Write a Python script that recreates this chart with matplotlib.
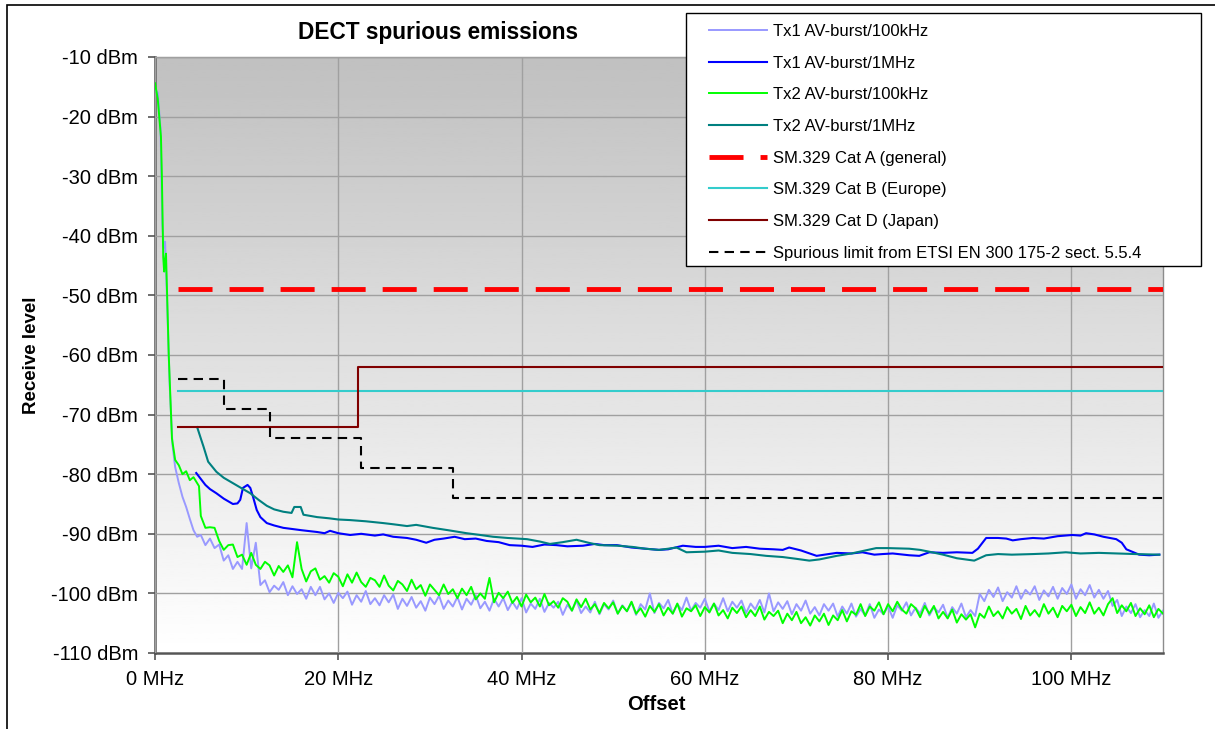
import numpy as np
import matplotlib
matplotlib.use("Agg")
import matplotlib.pyplot as plt
from matplotlib.patches import Rectangle

plt.rcParams['font.family'] = ['Liberation Sans', 'DejaVu Sans']

# ---- data (MHz / dBm) ----
# start of the 100 kHz sweeps (steep roll-off)
f_tx2_100k_start = [0, 0.3, 0.65, 0.75, 0.9, 1.0, 1.1, 1.2, 1.5, 1.85, 2.2, 2.6, 3.0, 3.4, 3.8, 4.2, 4.6, 4.8]
v_tx2_100k_start = [-14.4, -17, -23.4, -30, -43.6, -46, -44, -43, -60, -74, -77.6, -78.5, -80, -79.5, -81, -80.5, -81.5, -82]
f_tx1_100k_start = [0, 0.3, 0.6, 0.8, 0.95, 1.1, 1.3, 1.6, 1.9, 2.2, 2.6, 3.0, 3.4, 3.8, 4.2, 4.6]
v_tx1_100k_start = [-15.5, -16, -22, -38, -42, -41, -50, -65, -75, -78.8, -81.5, -83.8, -85.5, -87.5, -89.4, -90.5]

# rest of the 100 kHz sweeps, every 0.5 MHz from 5 to 110 MHz
f_sweep = np.arange(5.0, 110.01, 0.5)
v_tx2_100k = [
    -87.0, -89.0, -88.9, -89.0, -91.2, -92.7, -91.9, -91.8, -93.9, -93.5,     # 5.0 - 9.5
    -95.2, -93.2, -95.2, -95.9, -94.7, -95.3, -97.0, -95.4, -96.4, -95.3,     # 10.0 - 14.5
    -97.3, -91.4, -95.9, -98.0, -96.3, -95.8, -97.7, -97.1, -98.2, -96.6,     # 15.0 - 19.5
    -97.2, -98.8, -96.8, -98.2, -96.5, -98.1, -98.9, -97.4, -97.8, -98.9,     # 20.0 - 24.5
    -97.0, -98.7, -99.5, -97.9, -98.5, -99.6, -97.7, -99.3, -98.6, -100.4,    # 25.0 - 29.5
    -98.5, -99.4, -100.3, -98.5, -100.1, -99.3, -100.8, -99.2, -100.3, -98.9,  # 30.0 - 34.5
    -101.0, -100.0, -100.9, -97.4, -101.5, -99.9, -100.8, -99.7, -101.6, -100.6,  # 35.0 - 39.5
    -102.2, -100.2, -101.5, -100.7, -102.2, -100.1, -102.0, -101.3, -102.4, -100.8,  # 40.0 - 44.5
    -101.4, -102.9, -101.0, -102.3, -100.9, -102.7, -101.8, -103.3, -101.6, -102.5,  # 45.0 - 49.5
    -101.5, -103.4, -102.1, -103.0, -101.4, -103.4, -102.5, -103.9, -102.1, -103.1,  # 50.0 - 54.5
    -101.8, -103.7, -102.4, -103.4, -101.7, -103.9, -102.5, -103.0, -102.0, -103.8,  # 55.0 - 59.5
    -102.3, -103.2, -101.7, -103.7, -102.8, -104.2, -102.4, -103.3, -102.2, -104.0,  # 60.0 - 64.5
    -102.8, -103.8, -102.2, -104.4, -103.1, -103.8, -102.9, -105.0, -103.4, -104.5,  # 65.0 - 69.5
    -103.1, -105.0, -104.0, -105.4, -103.7, -104.7, -103.4, -105.3, -103.7, -104.5,  # 70.0 - 74.5
    -102.8, -104.7, -103.0, -103.6, -101.8, -103.8, -102.2, -102.9, -101.5, -103.5,  # 75.0 - 79.5
    -101.8, -103.0, -101.4, -102.7, -103.4, -101.8, -102.5, -104.0, -102.1, -103.4,  # 80.0 - 84.5
    -102.1, -104.2, -103.1, -104.2, -102.7, -104.9, -103.5, -104.4, -103.5, -105.7,  # 85.0 - 89.5
    -103.4, -104.1, -102.2, -103.8, -103.0, -104.2, -102.3, -103.4, -102.6, -104.3,  # 90.0 - 94.5
    -102.1, -103.7, -102.8, -103.9, -101.8, -103.4, -102.4, -104.0, -102.1, -103.0,  # 95.0 - 99.5
    -101.9, -103.8, -102.3, -103.3, -101.5, -103.4, -102.4, -103.7, -101.8, -100.8,  # 100.0 - 104.5
    -103.3, -102.0, -103.0, -101.6, -103.8, -102.5, -103.5, -102.0, -104.0, -102.6,  # 105.0 - 109.5
    -103.4,                                                                          # 110.0
]
v_tx1_100k = [
    -90.2, -91.9, -90.8, -92.4, -91.8, -94.5, -93.6, -95.9, -94.7, -95.9,     # 5.0 - 9.5
    -88.2, -95.8, -91.5, -98.6, -97.8, -99.8, -98.7, -99.4, -98.1, -100.3,    # 10.0 - 14.5
    -98.8, -100.1, -99.3, -100.9, -98.9, -100.3, -98.9, -101.0, -100.0, -101.6,  # 15.0 - 19.5
    -99.9, -100.8, -99.7, -101.9, -100.3, -101.4, -99.6, -101.8, -100.8, -102.0,  # 20.0 - 24.5
    -100.3, -101.5, -100.2, -102.6, -100.9, -102.1, -100.6, -102.4, -101.3, -102.9,  # 25.0 - 29.5
    -100.7, -101.8, -100.4, -102.6, -101.2, -102.2, -100.6, -102.7, -100.9, -101.9,  # 30.0 - 34.5
    -100.3, -102.5, -101.4, -102.9, -100.9, -102.2, -100.8, -102.8, -101.4, -102.6,  # 35.0 - 39.5
    -100.8, -103.2, -101.7, -102.6, -100.9, -103.1, -101.6, -102.4, -101.4, -103.6,  # 40.0 - 44.5
    -101.9, -102.9, -101.2, -103.3, -102.2, -103.2, -101.4, -103.5, -101.8, -102.7,  # 45.0 - 49.5
    -101.2, -103.4, -102.0, -103.0, -101.5, -103.6, -101.8, -102.7, -100.0, -103.3,  # 50.0 - 54.5
    -101.6, -102.5, -101.1, -103.4, -101.8, -102.8, -100.7, -102.9, -101.6, -102.4,  # 55.0 - 59.5
    -100.9, -103.0, -101.7, -102.8, -100.8, -103.0, -101.4, -102.4, -101.2, -103.3,  # 60.0 - 64.5
    -101.7, -102.7, -101.1, -103.2, -100.0, -103.0, -101.5, -102.6, -101.3, -103.5,  # 65.0 - 69.5
    -101.8, -102.9, -101.2, -103.4, -102.3, -103.7, -101.8, -102.9, -101.7, -103.9,  # 70.0 - 74.5
    -102.2, -103.4, -101.7, -103.9, -102.6, -103.7, -101.8, -104.1, -102.7, -103.5,  # 75.0 - 79.5
    -102.2, -104.1, -102.0, -102.9, -101.5, -103.7, -102.4, -103.4, -101.6, -103.7,  # 80.0 - 84.5
    -102.3, -103.2, -101.9, -104.1, -102.3, -103.4, -101.7, -104.0, -102.8, -103.8,  # 85.0 - 89.5
    -100.1, -101.3, -99.4, -100.6, -99.0, -101.3, -99.8, -100.7, -98.8, -100.9,     # 90.0 - 94.5
    -99.4, -100.2, -98.8, -101.1, -99.5, -100.5, -98.9, -100.9, -99.1, -100.1,      # 95.0 - 99.5
    -98.5, -100.9, -99.3, -100.3, -98.6, -100.7, -99.4, -100.9, -99.6, -102.1,      # 100.0 - 104.5
    -101.1, -103.8, -102.2, -103.3, -101.8, -104.0, -102.8, -103.8, -101.7, -104.1,  # 105.0 - 109.5
    -102.9,                                                                          # 110.0
]

# 1 MHz sweeps
f_tx1_1m = [4.5, 5.0, 5.5, 6.0, 6.7, 7.5, 8.5, 9.0, 9.3, 9.6, 10.1, 10.4, 10.7, 11.1, 11.5, 12.2, 13.0, 14.0,
            15.0, 16.0, 17.7, 18.5, 19.1, 20.0, 21.3, 22.5, 24.0, 24.9, 26.0, 27.5, 28.5, 29.6, 30.5, 31.5,
            32.7, 33.8, 35.0, 36.2, 37.5, 38.7, 40.0, 41.2, 42.5, 43.8, 45.0, 46.7, 48.0, 49.0, 50.4, 52.0,
            53.5, 55.0, 56.0, 57.6, 59.0, 60.0, 61.5, 63.0, 64.5, 66.0, 67.5, 68.5, 69.2, 70.5, 72.2, 73.5,
            74.4, 76.0, 77.2, 78.5, 79.4, 80.5, 82.3, 83.4, 84.5, 86.0, 87.5, 89.2, 89.8, 90.7, 92.0, 92.9,
            93.6, 94.5, 95.8, 97.0, 98.5, 100.1, 101.0, 101.6, 102.5, 103.5, 104.9, 105.5, 106.0, 107.4,
            108.5, 109.6]
v_tx1_1m = [-79.8, -80.8, -81.8, -82.5, -83.2, -84.1, -85.0, -84.9, -84.3, -82.3, -81.8, -82.3, -83.8, -86.0,
            -87.2, -88.2, -88.6, -89.0, -89.2, -89.4, -89.7, -89.9, -89.5, -89.9, -90.2, -90.0, -90.3, -90.1,
            -90.5, -90.7, -91.0, -91.5, -91.0, -90.8, -90.5, -90.9, -90.8, -91.2, -91.4, -91.9, -92.0, -92.2,
            -91.8, -91.9, -92.1, -92.0, -91.7, -91.9, -91.9, -92.3, -92.5, -92.7, -92.6, -92.0, -92.2, -92.2,
            -92.0, -92.4, -92.2, -92.5, -92.6, -92.7, -92.3, -92.8, -93.7, -93.4, -93.2, -93.3, -93.1, -93.5,
            -93.4, -93.3, -93.6, -93.7, -93.1, -93.2, -93.1, -93.2, -92.5, -90.7, -90.7, -90.8, -91.1, -90.9,
            -90.7, -90.8, -90.4, -90.2, -90.3, -89.9, -90.1, -90.5, -90.9, -91.5, -92.6, -93.5, -93.6, -93.5]

f_tx2_1m = [4.6, 5.0, 5.3, 5.8, 6.7, 7.5, 8.5, 9.5, 10.4, 11.3, 12.2, 13.0, 14.0, 14.9, 15.2, 15.9, 16.2, 17.7,
            19.0, 20.0, 21.3, 23.0, 24.9, 26.0, 27.5, 28.5, 30.3, 32.0, 34.0, 35.5, 36.9, 38.5, 40.6, 42.0,
            43.1, 44.5, 46.0, 47.3, 48.5, 50.5, 52.1, 53.5, 55.0, 56.0, 56.9, 58.0, 60.0, 61.5, 63.0, 65.0,
            66.7, 68.5, 70.0, 71.4, 72.5, 74.4, 76.0, 77.5, 78.7, 80.0, 82.3, 83.5, 84.8, 86.0, 87.5, 89.4,
            90.7, 92.0, 93.5, 95.8, 97.5, 99.4, 101.0, 103.0, 105.0, 107.0, 109.6]
v_tx2_1m = [-72.1, -74.0, -75.4, -77.9, -79.6, -80.6, -81.5, -82.4, -83.2, -84.3, -85.3, -85.9, -86.3, -86.5,
            -85.5, -85.5, -86.8, -87.2, -87.4, -87.6, -87.7, -87.9, -88.2, -88.4, -88.7, -88.5, -89.0, -89.4,
            -89.9, -90.2, -90.5, -90.7, -90.9, -91.3, -91.7, -91.4, -91.0, -91.5, -91.9, -92.0, -92.2, -92.5,
            -92.7, -92.5, -92.3, -93.1, -93.0, -92.8, -93.2, -93.4, -93.7, -93.9, -94.2, -94.5, -94.3, -93.7,
            -93.3, -92.8, -92.4, -92.4, -92.5, -92.7, -93.1, -93.5, -94.1, -94.5, -93.6, -93.4, -93.5, -93.4,
            -93.3, -93.1, -93.3, -93.2, -93.3, -93.4, -93.5]

# limit lines
cat_a_f, cat_a_v = [2.5, 110], [-49, -49]
cat_b_f, cat_b_v = [2.5, 110], [-66, -66]
cat_d_f, cat_d_v = [2.5, 22.2, 110], [-72, -62, -62]
etsi_f, etsi_v = [2.5, 7.5, 12.5, 22.5, 32.5, 110], [-64, -69, -74, -79, -84, -84]

x_ticks = [0, 20, 40, 60, 80, 100]
x_labels = ['0 MHz', '20 MHz', '40 MHz', '60 MHz', '80 MHz', '100 MHz']
y_ticks = [-10, -20, -30, -40, -50, -60, -70, -80, -90, -100, -110]
y_labels = ['-10 dBm', '-20 dBm', '-30 dBm', '-40 dBm', '-50 dBm', '-60 dBm',
            '-70 dBm', '-80 dBm', '-90 dBm', '-100 dBm', '-110 dBm']

# ---- figure ----
fig = plt.figure(figsize=(12.15, 7.29), dpi=100)
ax = fig.add_axes([155 / 1215, 1 - 653 / 729, (1163 - 155) / 1215, (653 - 57) / 729])

# plot area gradient (grey at top, white at bottom)
grad = np.linspace(0.753, 1.0, 256).reshape(-1, 1)
ax.imshow(grad, cmap='gray', vmin=0, vmax=1, aspect='auto',
          extent=[0, 110, -110, -10], zorder=0, origin='upper')

tx1_100k_f = list(f_tx1_100k_start) + list(f_sweep)
tx1_100k_v = list(v_tx1_100k_start) + list(v_tx1_100k)
tx2_100k_f = list(f_tx2_100k_start) + list(f_sweep)
tx2_100k_v = list(v_tx2_100k_start) + list(v_tx2_100k)

h1, = ax.plot(tx1_100k_f, tx1_100k_v, color='#9999FF', lw=1.4, zorder=3)
h2, = ax.plot(f_tx1_1m, v_tx1_1m, color='#0000FF', lw=1.5, zorder=3)
h3, = ax.plot(tx2_100k_f, tx2_100k_v, color='#00FF00', lw=1.4, zorder=3)
h4, = ax.plot(f_tx2_1m, v_tx2_1m, color='#008080', lw=1.5, zorder=3)
h5, = ax.plot(cat_a_f, cat_a_v, color='#FF0000', lw=3.5, ls=(0, (7, 3.5)), zorder=3)
h6, = ax.plot(cat_b_f, cat_b_v, color='#33CCCC', lw=1.5, zorder=3)
h7, = ax.plot(cat_d_f, cat_d_v, color='#800000', lw=1.5, drawstyle='steps-post', zorder=3)
h8, = ax.plot(etsi_f, etsi_v, color='black', lw=1.5, ls=(0, (4.5, 3)), drawstyle='steps-post', zorder=3)

ax.set_xlim(0, 110)
ax.set_ylim(-110, -10)
ax.set_xticks(x_ticks)
ax.set_xticklabels(x_labels)
ax.set_yticks(y_ticks)
ax.set_yticklabels(y_labels)
ax.tick_params(axis='both', labelsize=14.5, length=5, width=1.2, color='#555555', direction='out', pad=7)
ax.grid(True, color='#A0A0A0', lw=1)
ax.set_axisbelow(False)
for line in ax.get_xgridlines() + ax.get_ygridlines():
    line.set_zorder(1)
for s in ['left', 'bottom']:
    ax.spines[s].set_color('#555555')
    ax.spines[s].set_linewidth(1.8)
for s in ['top', 'right']:
    ax.spines[s].set_color('#8C8C8C')
    ax.spines[s].set_linewidth(1.0)

fig.text(438 / 1215, 1 - 32 / 729, 'DECT spurious emissions', ha='center', va='center',
         fontsize=16.3, fontweight='bold')
fig.text(656 / 1215, 1 - 704 / 729, 'Offset', ha='center', va='center', fontsize=14.5, fontweight='bold')
fig.text(32 / 1215, 1 - 355 / 729, 'Receive level', ha='center', va='center', rotation=90,
         fontsize=13.5, fontweight='bold')

# legend box drawn separately so the entries can sit inset from its left edge
fig.patches.append(Rectangle((686 / 1215, 1 - 266 / 729), (1201 - 686) / 1215, (266 - 13) / 729,
                             transform=fig.transFigure, facecolor='white', edgecolor='black',
                             lw=1.0, zorder=4))
labels = ['Tx1 AV-burst/100kHz', 'Tx1 AV-burst/1MHz', 'Tx2 AV-burst/100kHz', 'Tx2 AV-burst/1MHz',
          'SM.329 Cat A (general)', 'SM.329 Cat B (Europe)', 'SM.329 Cat D (Japan)',
          'Spurious limit from ETSI EN 300 175-2 sect. 5.5.4']
leg = fig.legend([h1, h2, h3, h4, h5, h6, h7, h8], labels, loc='upper left',
                 bbox_to_anchor=(709 / 1215, 1 - 24 / 729), fontsize=12, handlelength=3.5,
                 handletextpad=0.35, labelspacing=1.0, borderpad=0, borderaxespad=0, frameon=False)
leg.set_zorder(5)

fig.patches.append(Rectangle((7 / 1215, -0.01), 1.0, 1 - 5 / 729 + 0.01, transform=fig.transFigure,
                             fill=False, edgecolor='black', lw=1.2))

fig.savefig('out.png', dpi=100)
